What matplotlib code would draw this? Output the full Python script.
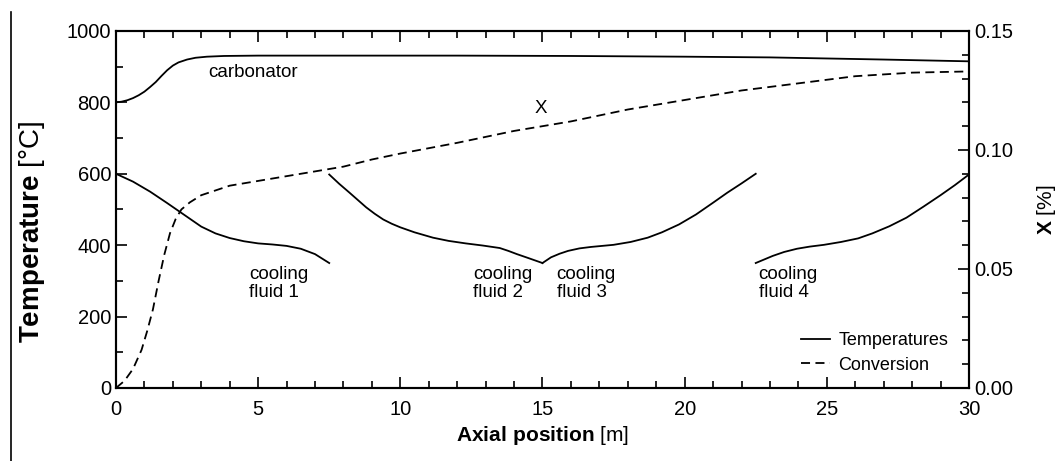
import numpy as np
import matplotlib
matplotlib.use("Agg")
import matplotlib.pyplot as plt
from matplotlib.lines import Line2D
from matplotlib.ticker import MultipleLocator, FormatStrFormatter

plt.rcParams['font.family'] = ['Liberation Sans', 'DejaVu Sans']
plt.rcParams['mathtext.fontset'] = 'custom'
plt.rcParams['mathtext.rm'] = 'Liberation Sans'
plt.rcParams['mathtext.bf'] = 'Liberation Sans:bold'

# temperatura nel carbonatore [°C]
x_carb = [0, 0.2, 0.4, 0.6, 0.8, 1.0, 1.2, 1.4, 1.6, 1.8, 2.0, 2.2, 2.5, 2.8, 3.2, 3.8,
          5, 8, 12, 16, 20, 23, 25, 27, 30]
T_carb = [800, 802, 806, 812, 820, 830, 843, 857, 874, 890, 903, 912, 920, 925, 928, 930,
          931, 931, 931, 930, 928, 926, 923, 920, 915]

# fluidi di raffreddamento [°C]
x_cf1 = [0, 0.6, 1.2, 1.8, 2.4, 3.0, 3.5, 4.0, 4.5, 5.0, 5.5, 6.0, 6.5, 7.0, 7.5]
T_cf1 = [600, 578, 550, 518, 485, 452, 433, 420, 411, 405, 402, 398, 390, 375, 350]

x_cf2 = [7.5, 7.85, 8.2, 8.5, 8.8, 9.1, 9.4, 9.7, 10.0, 10.5, 11.15, 11.7, 12.3, 12.9,
         13.5, 13.8, 14.1, 14.5, 15.0]
T_cf2 = [598, 572, 548, 527, 506, 488, 472, 460, 450, 436, 421, 412, 405, 399,
         392, 384, 375, 364, 350]

x_cf3 = [15.0, 15.3, 15.6, 15.9, 16.3, 16.7, 17.1, 17.5, 18.1, 18.7, 19.2, 19.8, 20.4,
         21.0, 21.5, 22.0, 22.5]
T_cf3 = [350, 366, 376, 384, 391, 395, 398, 401, 409, 421, 436, 458, 486,
         519, 547, 573, 600]

x_cf4 = [22.5, 22.8, 23.1, 23.5, 23.95, 24.4, 24.9, 25.5, 26.1, 26.6, 27.2, 27.8, 28.4,
         29.0, 29.5, 30.0]
T_cf4 = [350, 360, 370, 381, 390, 396, 401, 409, 419, 433, 453, 477, 508,
         540, 568, 598]

# conversione X
x_conv = [0, 0.3, 0.6, 0.9, 1.1, 1.3, 1.5, 1.7, 1.9, 2.1, 2.3, 2.6, 3.0, 4, 5, 6, 7, 8,
          9, 10, 12, 14, 16, 18, 20, 22, 24, 26, 28, 30]
X_conv = [0, 0.003, 0.008, 0.016, 0.024, 0.033, 0.045, 0.056, 0.065, 0.071, 0.075,
          0.078, 0.081, 0.085, 0.087, 0.089, 0.091, 0.093, 0.096, 0.0985, 0.103,
          0.108, 0.112, 0.117, 0.121, 0.125, 0.128, 0.131, 0.1325, 0.133]

fig = plt.figure(figsize=(10.59, 4.61), dpi=100)
ax = fig.add_axes([0.1095, 0.1584, 0.8055, 0.7744])
ax2 = ax.twinx()

lw = 1.3
for xs, ts in [(x_carb, T_carb), (x_cf1, T_cf1), (x_cf2, T_cf2), (x_cf3, T_cf3), (x_cf4, T_cf4)]:
    ax.plot(xs, ts, color='black', linewidth=lw)
ax2.plot(x_conv, X_conv, color='black', linewidth=lw, dashes=(5, 3))

ax.set_xlim(0, 30)
ax.set_ylim(0, 1000)
ax2.set_ylim(0, 0.15)

ax.xaxis.set_major_locator(MultipleLocator(5))
ax.xaxis.set_minor_locator(MultipleLocator(1))
ax.yaxis.set_major_locator(MultipleLocator(200))
ax.yaxis.set_minor_locator(MultipleLocator(100))
ax2.yaxis.set_major_locator(MultipleLocator(0.05))
ax2.yaxis.set_minor_locator(MultipleLocator(0.01))
ax2.yaxis.set_major_formatter(FormatStrFormatter('%.2f'))

ax.tick_params(which='both', direction='in', top=True, right=False, labelsize=14.5, width=1.2)
ax.tick_params(which='major', length=8)
ax.tick_params(which='minor', length=5)
ax2.tick_params(which='both', direction='in', labelsize=14.5, width=1.2)
ax2.tick_params(which='major', length=8)
ax2.tick_params(which='minor', length=5)
ax.tick_params(axis='x', pad=9)

for a in (ax, ax2):
    for s in a.spines.values():
        s.set_linewidth(1.5)

ax.set_xlabel(r'$\bf{Axial\ position}$ [m]', fontsize=15, labelpad=3)
ax.set_ylabel(r'$\bf{Temperature}$ [°C]', fontsize=20)
ax.yaxis.set_label_coords(-0.081, 0.437)
ax2.set_ylabel(r'$\bf{X}$ [%]', fontsize=15, rotation=90, labelpad=16)

ax.text(3.25, 885, 'carbonator', fontsize=13.5, va='center', ha='left')
ax.text(14.95, 782, 'X', fontsize=13.5, va='center', ha='center')
ax.text(4.68, 292, 'cooling\nfluid 1', fontsize=13.5, va='center', ha='left', linespacing=1.1)
ax.text(12.56, 292, 'cooling\nfluid 2', fontsize=13.5, va='center', ha='left', linespacing=1.1)
ax.text(15.5, 292, 'cooling\nfluid 3', fontsize=13.5, va='center', ha='left', linespacing=1.1)
ax.text(22.6, 292, 'cooling\nfluid 4', fontsize=13.5, va='center', ha='left', linespacing=1.1)

handles = [Line2D([], [], color='black', linewidth=lw),
           Line2D([], [], color='black', linewidth=lw, dashes=(5, 3))]
ax2.legend(handles, ['Temperatures', 'Conversion'], loc='lower right',
           bbox_to_anchor=(0.995, -0.005), frameon=False, fontsize=13,
           handlelength=1.6, handletextpad=0.5, labelspacing=0.4)

fig.add_artist(Line2D([11 / 1059, 11 / 1059], [0, 1 - 12 / 461], color='black', linewidth=1.2))

fig.savefig('out.png', dpi=100)
